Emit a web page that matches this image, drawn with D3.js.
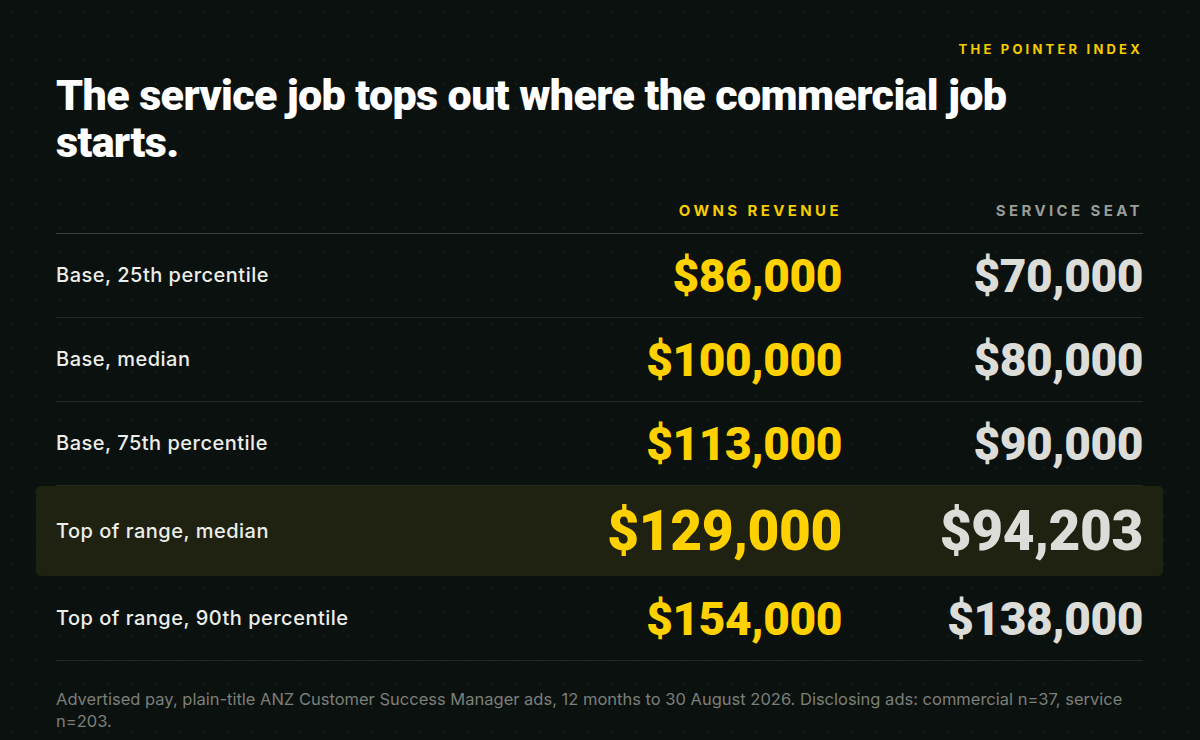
<!DOCTYPE html>
<html><head><meta charset="utf-8">
<script src="https://cdn.jsdelivr.net/npm/d3@7"></script>
<style>body{margin:0;background:#0b110e;}</style></head>
<body><svg id="c" width="1200" height="740"></svg>
<script>
const rowLabels=["Base, 25th percentile","Base, median","Base, 75th percentile","Top of range, median","Top of range, 90th percentile"];
const ownsRevenue=[86000,100000,113000,129000,154000];
const serviceSeat=[70000,80000,90000,94203,138000];
const columns=["OWNS REVENUE","SERVICE SEAT"];
const highlightIndex=3;

const svg=d3.select("#c");
const defs=svg.append("defs");
const pat=defs.append("pattern").attr("id","dots").attr("width",24).attr("height",24).attr("patternUnits","userSpaceOnUse");
pat.append("circle").attr("cx",12).attr("cy",12).attr("r",0.9).attr("fill","#1a2018");
svg.append("rect").attr("width",1200).attr("height",740).attr("fill","#0b110e");
svg.append("rect").attr("width",1200).attr("height",740).attr("fill","url(#dots)");

svg.append("text").attr("x",1143).attr("y",54).attr("text-anchor","end").attr("fill","#f5cc00")
 .attr("font-family","Inter").attr("font-weight",700).attr("font-size",13).attr("letter-spacing",3.2).text("THE POINTER INDEX");
const t=svg.append("text").attr("font-family","Roboto").attr("font-weight",900).attr("font-size",43).attr("fill","#fff").attr("letter-spacing",-0.6);
t.append("tspan").attr("x",56).attr("y",110).text("The service job tops out where the commercial job");
t.append("tspan").attr("x",56).attr("y",157).text("starts.");

const colX=[842,1143];
columns.forEach((c,i)=>svg.append("text").attr("x",colX[i]).attr("y",216).attr("text-anchor","end")
 .attr("fill",i==0?"#f5cc00":"#9a9c98").attr("font-family","Inter").attr("font-weight",700).attr("font-size",15).attr("letter-spacing",3.4).text(c));
svg.append("line").attr("x1",56).attr("x2",1143).attr("y1",233.5).attr("y2",233.5).attr("stroke","#3a3e3a");

const heights=rowLabels.map((d,i)=>i==highlightIndex?91:84);
let tops=[];let y=233;heights.forEach(h=>{tops.push(y);y+=h;});
const fmt=d3.format("$,");
rowLabels.forEach((lab,i)=>{
  const top=tops[i],h=heights[i],cy=top+h/2,hl=i==highlightIndex;
  if(hl) svg.append("rect").attr("x",36).attr("y",top+1).attr("width",1127).attr("height",h-1).attr("rx",5).attr("fill","#1f2210");
  else svg.append("line").attr("x1",56).attr("x2",1143).attr("y1",top+h+0.5).attr("y2",top+h+0.5).attr("stroke","#252925");
  svg.append("text").attr("x",56).attr("y",cy).attr("dy","0.35em").attr("fill","#eceee9").attr("font-family","Inter").attr("font-weight",500).attr("font-size",20).attr("letter-spacing",0.5).text(lab);
  [ownsRevenue[i],serviceSeat[i]].forEach((v,j)=>svg.append("text").attr("x",colX[j]).attr("y",cy).attr("dy","0.36em").attr("text-anchor","end")
    .attr("fill",j==0?"#ffd100":"#dcddd9").attr("font-family","Roboto").attr("font-weight",900)
    .attr("font-size",hl?55:46).attr("letter-spacing",-0.4).text(fmt(v)));
});
const f=svg.append("text").attr("font-family","Inter").attr("font-size",16.5).attr("fill","#7c7f7a");
f.append("tspan").attr("x",56).attr("y",705).text("Advertised pay, plain-title ANZ Customer Success Manager ads, 12 months to 30 August 2026. Disclosing ads: commercial n=37, service");
f.append("tspan").attr("x",56).attr("y",727).text("n=203.");
</script></body></html>
